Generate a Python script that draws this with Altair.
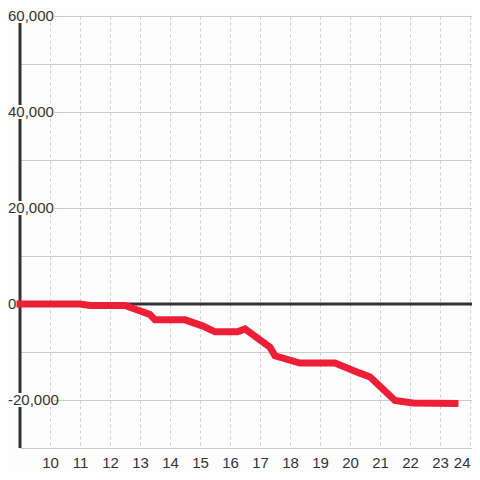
import altair as alt
import pandas as pd

# Line series (hour of day, cumulative value)
hours = [9, 11, 11.33, 12.5, 13.33, 13.5, 14.5, 15.1, 15.5, 16.25, 16.5,
         17.33, 17.5, 18.33, 19.5, 20.33, 20.67, 21.5, 22.1, 23.5]
values = [0, 0, -300, -300, -2200, -3300, -3300, -4600, -5800, -5800, -5200,
          -9000, -10800, -12300, -12300, -14400, -15200, -20100, -20600, -20700]

# Axis ticks / labels
y_grid = [60000, 50000, 40000, 30000, 20000, 10000, 0, -10000, -20000, -30000]
y_label_values = [60000, 40000, 20000, 0, -20000]
y_label_texts = ["60,000", "40,000", "20,000", "0", "-20,000"]
x_ticks = list(range(10, 25))

BG = "#fcfdfc"
DARK = "#333333"
GRID = "#cccccc"
RED = "#ec1f37"
FONT = "Liberation Sans"

df = pd.DataFrame({"hour": hours, "value": values})
labels_df = pd.DataFrame({"v": y_label_values, "t": y_label_texts})
one = pd.DataFrame({"a": [0]})

xscale = alt.Scale(domain=[9, 24.0667], nice=False, zero=False)
yscale = alt.Scale(domain=[-30000, 60000], nice=False, zero=False)

xaxis = alt.Axis(values=x_ticks, grid=True, gridColor=GRID, gridDash=[3, 3],
                 gridWidth=1, domain=False, ticks=False, labelPadding=7,
                 labelFont=FONT, labelFontSize=15, labelColor=DARK, title=None,
                 format="d", labelOverlap=False, labelBound=False, labelFlush=False,
                 labelAlign=alt.expr("datum.value == 24 ? 'right' : 'center'"))
yaxis = alt.Axis(values=y_grid, grid=True, gridColor=GRID, gridWidth=1,
                 domain=False, ticks=False, labels=False, title=None)

base_line = alt.Chart(df).mark_line(color=RED, strokeWidth=7, strokeCap="square",
                                    strokeJoin="miter").encode(
    x=alt.X("hour:Q", scale=xscale, axis=xaxis),
    y=alt.Y("value:Q", scale=yscale, axis=yaxis),
)

zero_rule = alt.Chart(one).mark_rule(color=DARK, strokeWidth=3).encode(
    y=alt.datum(0, scale=yscale, axis=yaxis)
)
y_rule = alt.Chart(one).mark_rule(color=DARK, strokeWidth=3).encode(
    x=alt.datum(9, scale=xscale, axis=xaxis)
)

label_bg = alt.Chart(labels_df).transform_filter("datum.v != 0").transform_calculate(
    top="datum.v + 1450", bot="datum.v - 1450"
).mark_rect(color=BG).encode(
    x=alt.value(-12), x2=alt.value(34),
    y=alt.Y("top:Q", scale=yscale, axis=yaxis), y2="bot:Q"
)
label_txt = alt.Chart(labels_df).mark_text(
    align="left", baseline="middle", font=FONT, fontSize=15, color=DARK
).encode(
    x=alt.value(-12), y=alt.Y("v:Q", scale=yscale, axis=yaxis), text="t:N"
)

chart = alt.layer(zero_rule, y_rule, label_bg, label_txt, base_line).properties(
    width=452, height=432,
    padding={"left": 12, "top": 8, "right": 0, "bottom": 24},
    autosize=alt.AutoSizeParams(type="none"),
    background=BG,
).configure_view(stroke=None).configure_axis(labelOverlap=False)

chart.save("out.html", embed_options={"renderer": "svg", "actions": False})
